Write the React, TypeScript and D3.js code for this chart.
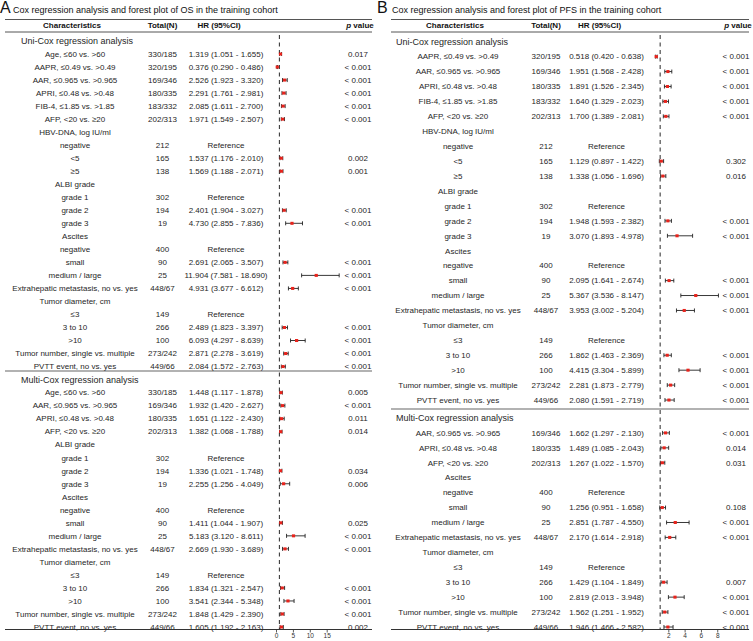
import { useEffect, useRef } from "react"
import * as d3 from "d3"

// ---------- Panel A: OS ----------
const osLabels = [
  "Uni-Cox regression analysis",
  "Age, ≤60 vs. >60",
  "AAPR, ≤0.49 vs. >0.49",
  "AAR, ≤0.965 vs. >0.965",
  "APRI, ≤0.48 vs. >0.48",
  "FIB-4, ≤1.85 vs. >1.85",
  "AFP, <20 vs. ≥20",
  "HBV-DNA, log IU/ml",
  "negative",
  "<5",
  "≥5",
  "ALBI grade",
  "grade 1",
  "grade 2",
  "grade 3",
  "Ascites",
  "negative",
  "small",
  "medium / large",
  "Extrahepatic metastasis, no vs. yes",
  "Tumor diameter, cm",
  "≤3",
  "3 to 10",
  ">10",
  "Tumor number, single vs. multiple",
  "PVTT event, no vs. yes",
  "Multi-Cox regression analysis",
  "Age, ≤60 vs. >60",
  "AAR, ≤0.965 vs. >0.965",
  "APRI, ≤0.48 vs. >0.48",
  "AFP, <20 vs. ≥20",
  "ALBI grade",
  "grade 1",
  "grade 2",
  "grade 3",
  "Ascites",
  "negative",
  "small",
  "medium / large",
  "Extrahepatic metastasis, no vs. yes",
  "Tumor diameter, cm",
  "≤3",
  "3 to 10",
  ">10",
  "Tumor number, single vs. multiple",
  "PVTT event, no vs. yes",
]
const osTotals = [
  "", "330/185", "320/195", "169/346", "180/335", "183/332", "202/313", "", "212", "165", "138",
  "", "302", "194", "19", "", "400", "90", "25", "448/67", "", "149", "266", "100", "273/242", "449/66",
  "", "330/185", "169/346", "180/335", "202/313", "", "302", "194", "19", "", "400", "90", "25", "448/67",
  "", "149", "266", "100", "273/242", "449/66",
]
const osHR = [
  null, 1.319, 0.376, 2.526, 2.291, 2.085, 1.971, null, null, 1.537, 1.569,
  null, null, 2.401, 4.73, null, null, 2.691, 11.904, 4.931, null, null, 2.489, 6.093, 2.871, 2.084,
  null, 1.448, 1.932, 1.651, 1.382, null, null, 1.336, 2.255, null, null, 1.411, 5.183, 2.669,
  null, null, 1.834, 3.541, 1.848, 1.605,
]
const osLower = [
  null, 1.051, 0.29, 1.923, 1.761, 1.611, 1.549, null, null, 1.176, 1.188,
  null, null, 1.904, 2.855, null, null, 2.065, 7.581, 3.677, null, null, 1.823, 4.297, 2.278, 1.572,
  null, 1.117, 1.42, 1.122, 1.068, null, null, 1.021, 1.256, null, null, 1.044, 3.12, 1.93,
  null, null, 1.321, 2.344, 1.429, 1.192,
]
const osUpper = [
  null, 1.655, 0.486, 3.32, 2.981, 2.7, 2.507, null, null, 2.01, 2.071,
  null, null, 3.027, 7.836, null, null, 3.507, 18.69, 6.612, null, null, 3.397, 8.639, 3.619, 2.763,
  null, 1.878, 2.627, 2.43, 1.788, null, null, 1.748, 4.049, null, null, 1.907, 8.611, 3.689,
  null, null, 2.547, 5.348, 2.39, 2.163,
]
const osPValues = [
  "", "0.017", "< 0.001", "< 0.001", "< 0.001", "< 0.001", "< 0.001", "", "", "0.002", "0.001",
  "", "", "< 0.001", "< 0.001", "", "", "< 0.001", "< 0.001", "< 0.001", "", "", "< 0.001", "< 0.001", "< 0.001", "< 0.001",
  "", "0.005", "< 0.001", "0.011", "0.014", "", "", "0.034", "0.006", "", "", "0.025", "< 0.001", "< 0.001",
  "", "", "< 0.001", "< 0.001", "< 0.001", "0.002",
]
const osSectionRows = [0, 26]
const osTicks = [0, 5, 10, 15]

// ---------- Panel B: PFS ----------
const pfsLabels = [
  "Uni-Cox regression analysis",
  "AAPR, ≤0.49 vs. >0.49",
  "AAR, ≤0.965 vs. >0.965",
  "APRI, ≤0.48 vs. >0.48",
  "FIB-4, ≤1.85 vs. >1.85",
  "AFP, <20 vs. ≥20",
  "HBV-DNA, log IU/ml",
  "negative",
  "<5",
  "≥5",
  "ALBI grade",
  "grade 1",
  "grade 2",
  "grade 3",
  "Ascites",
  "negative",
  "small",
  "medium / large",
  "Extrahepatic metastasis, no vs. yes",
  "Tumor diameter, cm",
  "≤3",
  "3 to 10",
  ">10",
  "Tumor number, single vs. multiple",
  "PVTT event, no vs. yes",
  "Multi-Cox regression analysis",
  "AAR, ≤0.965 vs. >0.965",
  "APRI, ≤0.48 vs. >0.48",
  "AFP, <20 vs. ≥20",
  "Ascites",
  "negative",
  "small",
  "medium / large",
  "Extrahepatic metastasis, no vs. yes",
  "Tumor diameter, cm",
  "≤3",
  "3 to 10",
  ">10",
  "Tumor number, single vs. multiple",
  "PVTT event, no vs. yes",
]
const pfsTotals = [
  "", "320/195", "169/346", "180/335", "183/332", "202/313", "", "212", "165", "138",
  "", "302", "194", "19", "", "400", "90", "25", "448/67", "", "149", "266", "100", "273/242", "449/66",
  "", "169/346", "180/335", "202/313", "", "400", "90", "25", "448/67", "", "149", "266", "100", "273/242", "449/66",
]
const pfsHR = [
  null, 0.518, 1.951, 1.891, 1.64, 1.7, null, null, 1.129, 1.338,
  null, null, 1.948, 3.07, null, null, 2.095, 5.367, 3.953, null, null, 1.862, 4.415, 2.281, 2.08,
  null, 1.662, 1.489, 1.267, null, null, 1.256, 2.851, 2.17, null, null, 1.429, 2.819, 1.562, 1.946,
]
const pfsLower = [
  null, 0.42, 1.568, 1.526, 1.329, 1.389, null, null, 0.897, 1.056,
  null, null, 1.593, 1.893, null, null, 1.641, 3.536, 3.002, null, null, 1.463, 3.304, 1.873, 1.591,
  null, 1.297, 1.085, 1.022, null, null, 0.951, 1.787, 1.614, null, null, 1.104, 2.013, 1.251, 1.466,
]
const pfsUpper = [
  null, 0.638, 2.428, 2.345, 2.023, 2.081, null, null, 1.422, 1.696,
  null, null, 2.382, 4.978, null, null, 2.674, 8.147, 5.204, null, null, 2.369, 5.899, 2.779, 2.719,
  null, 2.13, 2.043, 1.57, null, null, 1.658, 4.55, 2.918, null, null, 1.849, 3.948, 1.952, 2.582,
]
const pfsPValues = [
  "", "< 0.001", "< 0.001", "< 0.001", "< 0.001", "< 0.001", "", "", "0.302", "0.016",
  "", "", "< 0.001", "< 0.001", "", "", "< 0.001", "< 0.001", "< 0.001", "", "", "< 0.001", "< 0.001", "< 0.001", "< 0.001",
  "", "< 0.001", "0.014", "0.031", "", "", "0.108", "< 0.001", "< 0.001", "", "", "0.007", "< 0.001", "< 0.001", "< 0.001",
]
const pfsSectionRows = [0, 25]
const pfsTicks = [2, 4, 6, 8]

const FONT = "'Liberation Sans', Arial, sans-serif"
const RED = "#e8231c"
const TEXT = "#262626"

interface Panel {
  letter: string
  title: string
  labels: string[]
  totals: string[]
  hr: (number | null)[]
  lower: (number | null)[]
  upper: (number | null)[]
  pvalues: string[]
  sections: number[]
  ticks: number[]
  // layout
  ox: number
  left: number
  right: number
  titleX: number
  sectionX: number
  labelX: number
  totalX: number
  hrX: number
  pX: number
  axisStart: number
  pxPerUnit: number
  xMax: number
  rowTop: number
  rowBottom: number
  sectionGap: number
  sepY: number
}

const panels: Panel[] = [
  {
    letter: "A",
    title: "Cox regression analysis and forest plot of OS in the training cohort",
    labels: osLabels, totals: osTotals, hr: osHR, lower: osLower, upper: osUpper,
    pvalues: osPValues, sections: osSectionRows, ticks: osTicks,
    ox: 0, left: 5, right: 372, titleX: 13, sectionX: 21, labelX: 75, totalX: 162.5,
    hrX: 226, pX: 358, axisStart: 276, pxPerUnit: 3.38, xMax: 20,
    rowTop: 41, rowBottom: 627, sectionGap: 0, sepY: 371,
  },
  {
    letter: "B",
    title: "Cox regression analysis and forest plot of PFS in the training cohort",
    labels: pfsLabels, totals: pfsTotals, hr: pfsHR, lower: pfsLower, upper: pfsUpper,
    pvalues: pfsPValues, sections: pfsSectionRows, ticks: pfsTicks,
    ox: 377, left: 391, right: 749, titleX: 392, sectionX: 396, labelX: 458, totalX: 546,
    hrX: 606.5, pX: 736, axisStart: 652, pxPerUnit: 8.155, xMax: 10,
    rowTop: 41.7, rowBottom: 627, sectionGap: 3, sepY: 409,
  },
]

function drawPanel(svg: d3.Selection<SVGSVGElement, unknown, null, undefined>, p: Panel) {
  const g = svg.append("g").style("font-family", FONT)
  const n = p.labels.length
  const f3 = d3.format(".3f")

  const x = d3
    .scaleLinear()
    .domain([0, p.xMax])
    .range([p.axisStart, p.axisStart + p.xMax * p.pxPerUnit])
  const rowScale = d3
    .scaleLinear()
    .domain([0, n - 1])
    .range([p.rowTop, p.rowBottom - p.sectionGap])
  const y = (i: number) => rowScale(i) + (i >= p.sections[1] ? p.sectionGap : 0)

  // panel letter + title
  g.append("text").attr("x", p.ox).attr("y", 13).style("font-size", "16px").attr("fill", "#111").text(p.letter)
  g.append("text").attr("x", p.titleX).attr("y", 13.3).style("font-size", "9px").attr("fill", "#111").text(p.title)

  // table rules
  const rule = (yy: number, color: string, w: number) =>
    g.append("line").attr("x1", p.left).attr("x2", p.right).attr("y1", yy).attr("y2", yy)
      .attr("stroke", color).attr("stroke-width", w)
  rule(19.5, "#555", 1)
  rule(32, "#555", 1)
  rule(p.sepY, "#666", 1.2)

  // header
  const header = g.append("g").style("font-size", "8px").style("font-weight", "bold").attr("fill", "#111")
  header.append("text").attr("x", p.labelX - 3).attr("y", 25.5).attr("dy", "0.35em").attr("text-anchor", "middle").text("Characteristics")
  header.append("text").attr("x", p.totalX).attr("y", 25.5).attr("dy", "0.35em").attr("text-anchor", "middle").text("Total(N)")
  header.append("text").attr("x", p.hrX - 7).attr("y", 25.5).attr("dy", "0.35em").attr("text-anchor", "middle").text("HR (95%CI)")
  const pv = header.append("text").attr("x", p.pX + 2).attr("y", 25.5).attr("dy", "0.35em").attr("text-anchor", "middle")
  pv.append("tspan").style("font-style", "italic").text("p")
  pv.append("tspan").text(" value")

  // reference dashed line at HR = 1
  g.append("line")
    .attr("x1", x(1)).attr("x2", x(1)).attr("y1", 35).attr("y2", 629)
    .attr("stroke", "#111").attr("stroke-width", 0.9).attr("stroke-dasharray", "4,3.5")

  // rows
  const rows = g.selectAll(".row").data(d3.range(n)).enter().append("g").attr("class", "row")

  rows.append("text")
    .attr("x", (i) => (p.sections.includes(i) ? p.sectionX : p.labelX))
    .attr("y", (i) => y(i))
    .attr("dy", "0.35em")
    .attr("text-anchor", (i) => (p.sections.includes(i) ? "start" : "middle"))
    .style("font-size", (i) => (p.sections.includes(i) ? "9px" : "8px"))
    .attr("fill", TEXT)
    .text((i) => p.labels[i])

  rows.append("text")
    .attr("x", p.totalX).attr("y", (i) => y(i)).attr("dy", "0.35em")
    .attr("text-anchor", "middle").style("font-size", "8px").attr("fill", TEXT)
    .text((i) => p.totals[i])

  rows.append("text")
    .attr("x", p.hrX).attr("y", (i) => y(i)).attr("dy", "0.35em")
    .attr("text-anchor", "middle").style("font-size", "8px").attr("fill", TEXT)
    .text((i) => {
      const h = p.hr[i]
      if (h != null) return `${f3(h)} (${f3(p.lower[i] as number)} - ${f3(p.upper[i] as number)})`
      return p.totals[i] ? "Reference" : ""
    })

  rows.append("text")
    .attr("x", p.pX).attr("y", (i) => y(i)).attr("dy", "0.35em")
    .attr("text-anchor", "middle").style("font-size", "8px").attr("fill", TEXT)
    .text((i) => p.pvalues[i])

  // forest marks
  const est = rows.filter((i) => p.hr[i] != null)
  est.append("line")
    .attr("x1", (i) => x(p.lower[i] as number)).attr("x2", (i) => x(p.upper[i] as number))
    .attr("y1", (i) => y(i)).attr("y2", (i) => y(i))
    .attr("stroke", "#222").attr("stroke-width", 0.9)
  est.append("line")
    .attr("x1", (i) => x(p.lower[i] as number)).attr("x2", (i) => x(p.lower[i] as number))
    .attr("y1", (i) => y(i) - 2).attr("y2", (i) => y(i) + 2)
    .attr("stroke", "#222").attr("stroke-width", 0.9)
  est.append("line")
    .attr("x1", (i) => x(p.upper[i] as number)).attr("x2", (i) => x(p.upper[i] as number))
    .attr("y1", (i) => y(i) - 2).attr("y2", (i) => y(i) + 2)
    .attr("stroke", "#222").attr("stroke-width", 0.9)
  est.append("rect")
    .attr("x", (i) => x(p.hr[i] as number) - 1.6)
    .attr("y", (i) => y(i) - 1.5)
    .attr("width", 3.2).attr("height", 3)
    .attr("fill", RED)

  // bottom rule + axis ticks
  rule(629.5, "#333", 1)
  const axis = d3.axisBottom(x).tickValues(p.ticks).tickSize(3).tickPadding(1).tickFormat(d3.format("d"))
  const ax = g.append("g").attr("transform", "translate(0,629.5)").call(axis)
  ax.select(".domain").remove()
  ax.selectAll("line").attr("stroke", "#333").attr("stroke-width", 0.8)
  ax.selectAll("text").style("font-size", "6.5px").style("font-family", FONT).attr("fill", "#333")
}

export default function App() {
  const svgRef = useRef<SVGSVGElement>(null)

  useEffect(() => {
    if (!svgRef.current) return
    const svg = d3.select(svgRef.current)
    svg.selectAll("*").remove()
    panels.forEach((p) => drawPanel(svg, p))
  }, [])

  return (
    <svg
      ref={svgRef}
      width={753}
      height={641}
      style={{ position: "absolute", left: 0, top: 0, background: "#fff", display: "block" }}
    />
  )
}
